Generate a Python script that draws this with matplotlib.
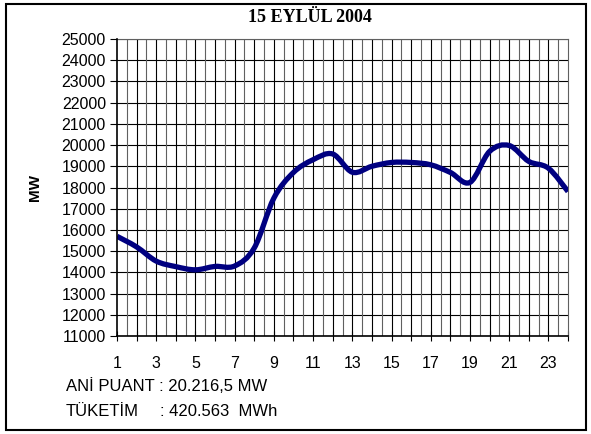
import matplotlib
matplotlib.use("Agg")
import matplotlib.pyplot as plt
from matplotlib.patches import Rectangle, PathPatch
from matplotlib.path import Path

# Hourly load, 15 September 2004
hours = list(range(1, 25))
load_mw = [15700, 15200, 14530, 14270, 14120, 14280, 14300, 15150, 17500, 18710,
           19310, 19580, 18720, 19000, 19180, 19180, 19070, 18710, 18240, 19700,
           19980, 19230, 18910, 17810]
x_labels = [str(h) if h % 2 == 1 else "" for h in hours]
y_ticks = list(range(11000, 26000, 1000))

title = "15 EYLÜL 2004"
peak_text = "ANİ PUANT : 20.216,5 MW"
cons_label = "TÜKETİM"
cons_value = ": 420.563  MWh"

plt.rcParams['font.family'] = ['Liberation Sans', 'DejaVu Sans']

W, H = 591, 434
fig = plt.figure(figsize=(W / 100, H / 100), dpi=100)
ax = fig.add_axes([117 / W, 1 - 336 / H, (568 - 117) / W, (336 - 39) / H])

# grid: horizontal every 1000, vertical every half hour
for y in y_ticks:
    ax.axhline(y, color="black", lw=0.8, zorder=1)
for i in range(1, 46):
    xv = 1 + i * 0.5
    ax.axvline(xv, color="#000000" if i % 2 == 0 else "#606060", lw=0.8, zorder=1)


def smooth_path(xs, ys):
    # Excel-style smoothed line: cubic Bezier segments through the data points
    pts = list(zip(xs, ys))
    verts = [pts[0]]
    codes = [Path.MOVETO]
    n = len(pts)
    for i in range(n - 1):
        p0 = pts[i - 1] if i > 0 else pts[i]
        p1 = pts[i]
        p2 = pts[i + 1]
        p3 = pts[i + 2] if i + 2 < n else pts[i + 1]
        c1 = (p1[0] + (p2[0] - p0[0]) / 6, p1[1] + (p2[1] - p0[1]) / 6)
        c2 = (p2[0] - (p3[0] - p1[0]) / 6, p2[1] - (p3[1] - p1[1]) / 6)
        verts += [c1, c2, p2]
        codes += [Path.CURVE4] * 3
    return Path(verts, codes)


ax.add_patch(PathPatch(smooth_path(hours, load_mw), transform=ax.transData,
                       facecolor="none", edgecolor="#000080", lw=3.8,
                       joinstyle="round", capstyle="butt", zorder=3))

ax.set_xlim(1, 24)
ax.set_ylim(11000, 25000)
ax.set_xticks(hours)
ax.set_xticklabels(x_labels, fontsize=11.5)
ax.set_yticks(y_ticks)
ax.set_yticklabels([str(v) for v in y_ticks], fontsize=11.5)
ax.tick_params(axis="x", direction="inout", length=7, width=0.8, pad=11)
ax.tick_params(axis="y", direction="out", length=5, width=0.8, pad=3)

for s in ["left", "bottom"]:
    ax.spines[s].set_linewidth(1.2)
    ax.spines[s].set_zorder(4)
for s in ["top", "right"]:
    ax.spines[s].set_color("#606060")
    ax.spines[s].set_linewidth(0.8)

ax.set_ylabel("MW", fontsize=11, fontweight="bold", labelpad=14)

fig.text(310 / W, 1 - 18 / H, title, ha="center", va="center",
         fontsize=13, fontweight="bold", family=["Liberation Serif", "DejaVu Serif"])
fig.text(66 / W, 1 - 386 / H, peak_text, ha="left", va="center", fontsize=12)
fig.text(66 / W, 1 - 411 / H, cons_label, ha="left", va="center", fontsize=12)
fig.text(160 / W, 1 - 411 / H, cons_value, ha="left", va="center", fontsize=12)

fig.add_artist(Rectangle((6 / W, 1 - 430 / H), (586 - 6) / W, (430 - 4) / H,
                         transform=fig.transFigure, fill=False,
                         edgecolor="black", lw=1.5))

fig.savefig("out.png", dpi=100)
